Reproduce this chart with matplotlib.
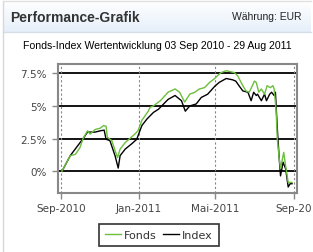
import numpy as np
import pandas as pd
import matplotlib
matplotlib.use('Agg')
import matplotlib.pyplot as plt

# Fonds (green), percent performance
fonds_dates = ['2010-09-03', '2010-09-16', '2010-09-24', '2010-10-01', '2010-10-06', '2010-10-13',
               '2010-10-17', '2010-10-25', '2010-11-02', '2010-11-07', '2010-11-11', '2010-11-13',
               '2010-11-20', '2010-11-25', '2010-11-29', '2010-12-03', '2010-12-11', '2010-12-18',
               '2010-12-26', '2010-12-31', '2011-01-06', '2011-01-16', '2011-01-19', '2011-01-24',
               '2011-02-01', '2011-02-04', '2011-02-16', '2011-02-27', '2011-03-06', '2011-03-14',
               '2011-03-22', '2011-03-30', '2011-04-06', '2011-04-14', '2011-04-22', '2011-04-30',
               '2011-05-05', '2011-05-10', '2011-05-18', '2011-05-31', '2011-06-05', '2011-06-13',
               '2011-06-18', '2011-06-23', '2011-06-28', '2011-07-01', '2011-07-04', '2011-07-08',
               '2011-07-12', '2011-07-17', '2011-07-21', '2011-07-26', '2011-07-30', '2011-08-01',
               '2011-08-04', '2011-08-06', '2011-08-09', '2011-08-11', '2011-08-14', '2011-08-16',
               '2011-08-19', '2011-08-23', '2011-08-29']
fonds_vals = [0.0, 1.2, 1.3, 1.8, 2.5, 3.1,
              2.85, 3.2, 3.3, 3.5, 3.45, 2.6,
              2.35, 1.6, 1.05, 1.7, 2.2, 2.5,
              2.85, 3.1, 3.9, 4.6, 4.9, 5.0,
              5.3, 5.4, 6.05, 6.3, 6.05, 5.3,
              5.9, 6.05, 6.3, 6.4, 6.8, 7.1,
              7.35, 7.55, 7.7, 7.55, 7.3, 6.55,
              6.15, 6.05, 6.55, 6.9, 6.8, 6.05,
              6.3, 5.9, 6.55, 6.4, 6.55, 6.3,
              4.75, 2.45, 0.95, 0.2, 0.95, 1.45,
              0.4, -0.85, -0.85]

# Index (black)
index_dates = ['2010-09-03', '2010-09-16', '2010-10-06', '2010-10-13', '2010-10-25', '2010-11-02',
               '2010-11-08', '2010-11-11', '2010-11-17', '2010-11-25', '2010-11-30', '2010-12-03',
               '2010-12-11', '2010-12-21', '2010-12-29', '2011-01-06', '2011-01-14', '2011-01-19',
               '2011-01-24', '2011-02-01', '2011-02-04', '2011-02-16', '2011-02-27', '2011-03-09',
               '2011-03-15', '2011-03-22', '2011-04-01', '2011-04-09', '2011-04-19', '2011-04-30',
               '2011-05-07', '2011-05-18', '2011-05-28', '2011-06-02', '2011-06-07', '2011-06-13',
               '2011-06-21', '2011-06-26', '2011-06-30', '2011-07-04', '2011-07-06', '2011-07-12',
               '2011-07-17', '2011-07-20', '2011-07-25', '2011-07-28', '2011-08-01', '2011-08-03',
               '2011-08-06', '2011-08-09', '2011-08-11', '2011-08-15', '2011-08-19', '2011-08-23',
               '2011-08-26', '2011-08-29']
index_vals = [0.0, 1.2, 2.5, 3.0, 3.0, 3.1,
              3.15, 2.45, 2.35, 1.2, 0.25, 1.2,
              1.7, 2.1, 2.45, 3.5, 4.0, 4.25,
              4.5, 4.75, 4.9, 5.5, 5.8, 5.4,
              4.6, 5.0, 5.15, 5.65, 5.9, 6.5,
              6.8, 7.1, 7.0, 6.9, 6.55, 6.15,
              6.05, 5.4, 6.05, 5.8, 5.9, 5.4,
              5.9, 5.4, 5.9, 6.05, 5.8, 6.05,
              3.25, 0.95, -0.35, 0.7, 0.2, -1.2,
              -0.95, -0.95]

y_ticks = [0, 2.5, 5, 7.5]
y_labels = ['0%', '2.5%', '5%', '7.5%']
x_ticks = ['2010-09-01', '2011-01-01', '2011-05-01', '2011-09-01']
x_labels = ['Sep-2010', 'Jan-2011', 'Mai-2011', 'Sep-20']

W, H = 313, 253
fig = plt.figure(figsize=(W / 100, H / 100), dpi=100)
fig.patch.set_facecolor('white')

# header panel with gradient
bg = fig.add_axes([0, 0, 1, 1], zorder=-1)
bg.axis('off')
grad = np.linspace(0, 1, 50).reshape(-1, 1)
top_c = np.array([1.0, 1.0, 1.0])
bot_c = np.array([0.90, 0.94, 0.98])
img = top_c + grad[..., None] * (bot_c - top_c)
bg.imshow(img, extent=[3, 311, 33, 2], aspect='auto')
bg.plot([3, 311], [33, 33], color='#d5dde6', lw=1)
bg.plot([3, 3], [2, 252], color='#d8d8d8', lw=1)
bg.plot([3, 311], [2, 2], color='#e0e0e0', lw=1)
bg.set_xlim(0, W)
bg.set_ylim(H, 0)

fig.text(10 / W, 1 - 18 / H, 'Performance-Grafik', fontsize=10, fontweight='bold',
         color='#333333', family='Liberation Sans', va='center', ha='left')
fig.text(302 / W, 1 - 17 / H, 'Währung: EUR', fontsize=7.5, color='#222222',
         family='Liberation Sans', va='center', ha='right')
fig.text(157 / W, 1 - 46 / H, 'Fonds-Index Wertentwicklung 03 Sep 2010 - 29 Aug 2011',
         fontsize=7.6, color='black', family='Liberation Sans', va='center', ha='center')

ax = fig.add_axes([57.5 / W, 1 - 194 / H, (296.5 - 57.5) / W, (194 - 65) / H])
fd = pd.to_datetime(fonds_dates)
idd = pd.to_datetime(index_dates)
xt = pd.to_datetime(x_ticks)

for y in y_ticks:
    ax.axhline(y, color='black', lw=1.3, zorder=1)
for x in xt:
    ax.axvline(x, color='#888888', lw=0.8, ls=(0, (2, 2)), zorder=1)

ax.plot(fd, fonds_vals, color='#6abf3c', lw=1.0, label='Fonds', zorder=3)
ax.plot(idd, index_vals, color='black', lw=1.0, label='Index', zorder=2)

ax.set_xlim(pd.Timestamp('2010-08-27'), pd.Timestamp('2011-09-05'))
ax.set_ylim(-1.66, 8.21)
ax.set_yticks(y_ticks)
ax.set_yticklabels(y_labels)
ax.set_xticks(xt)
ax.set_xticklabels(x_labels)
ax.tick_params(colors='#888888', labelcolor='#444444', labelsize=7.5, length=4, width=1)
ax.tick_params(axis='y', pad=4)
ax.tick_params(axis='x', pad=3)
for lab in ax.get_xticklabels() + ax.get_yticklabels():
    lab.set_family('DejaVu Sans')
for s in ax.spines.values():
    s.set_color('#888888')
    s.set_linewidth(1.5)

leg = fig.legend(loc='center', bbox_to_anchor=(159 / W, 1 - 236 / H), ncol=2,
                 frameon=True, fancybox=False, edgecolor='black', fontsize=8,
                 handlelength=1.4, handletextpad=0.3, columnspacing=0.6,
                 borderpad=0.5, borderaxespad=0)
leg.get_frame().set_linewidth(1.2)
for t in leg.get_texts():
    t.set_color('#333333')
    t.set_family('DejaVu Sans')

fig.savefig('out.png', dpi=100)
